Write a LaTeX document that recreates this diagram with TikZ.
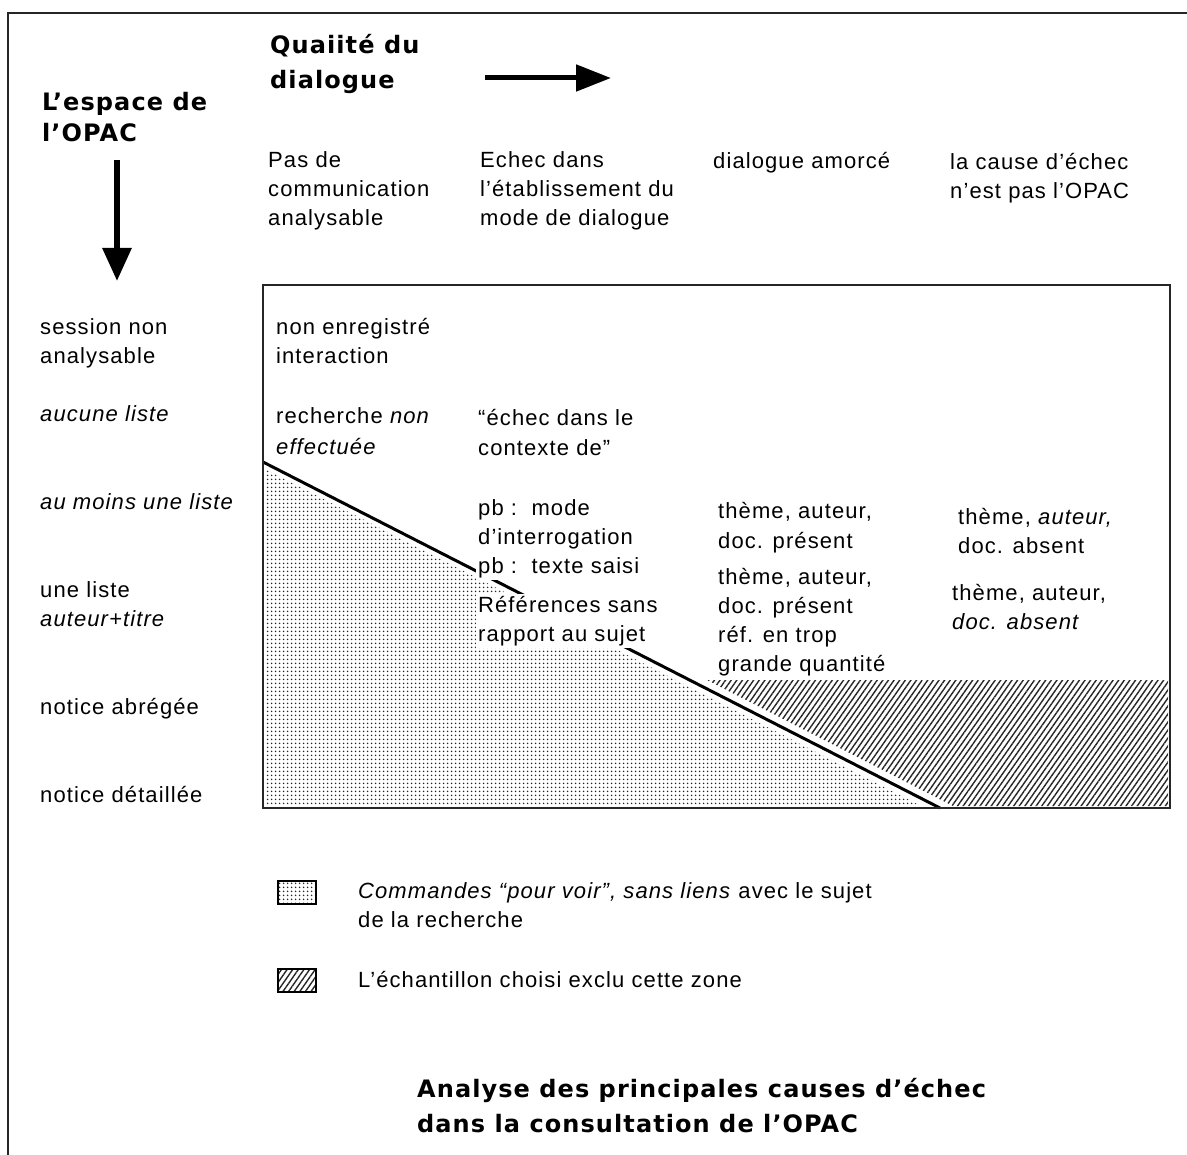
\documentclass[tikz,border=0pt]{standalone}
\usepackage{fontspec}
\setmainfont{Liberation Sans}[LetterSpace=5]
\newfontfamily\titlefont{DejaVu Sans}[LetterSpace=4.5]
\usetikzlibrary{arrows.meta,patterns.meta}
\tikzset{
  lbl/.style={anchor=base west, inner sep=0pt, align=left, font=\fontsize{22}{29}\selectfont},
  wlbl/.style={lbl, fill=white, inner sep=2pt},
  ttl/.style={anchor=base west, inner sep=0pt, align=left, font=\titlefont\bfseries\fontsize{24}{35}\selectfont},
  frame/.style={line width=2pt, black!85},
  dotfill/.style={pattern={Dots[distance=4pt, radius=1pt]}, pattern color=black!85},
  hatchfill/.style={pattern={Lines[angle=55, distance=4.6pt, line width=1.4pt]}, pattern color=black!85},
  bigarrow/.style={line width=5pt, -{Triangle[length=35pt, width=26pt]}},
  diag/.style={line width=3pt, black}
}
\begin{document}
\begin{tikzpicture}[x=1pt, y=-1pt]
\useasboundingbox (0,0) rectangle (1187,1155);
% outer frame
\coordinate (ftr) at (1187,13);
\coordinate (ftl) at (8,13);
\coordinate (fbl) at (8,1155);
\draw[frame] (ftr) -- (ftl) -- (fbl);

% titles (anchored on the baseline of the last line)
\node[ttl, font=\titlefont\bfseries\fontsize{24}{35}\selectfont] (qual) at (270,89) {Quaiité du\\dialogue};
\node[ttl, font=\titlefont\bfseries\fontsize{24}{31}\selectfont] (esp) at (42,142) {L’espace de\\l’OPAC};
\coordinate (ra1) at (485,78);
\coordinate (ra2) at (611,78);
\draw[bigarrow] (ra1) -- (ra2);
\coordinate (da1) at (117,160);
\coordinate (da2) at (117,281);
\draw[bigarrow, line width=6pt, -{Triangle[length=33pt, width=28pt]}] (da1) -- (da2);

% column headers
\node[lbl] (h1) at (268,226) {Pas de\\communication\\analysable};
\node[lbl] (h2) at (480,226) {Echec dans\\l’établissement du\\mode de dialogue};
\node[lbl] (h3) at (713,169) {dialogue amorcé};
\node[lbl] (h4) at (950,199) {la cause d’échec\\n’est pas l’OPAC};

% row labels
\node[lbl] (r1) at (40,364) {session non\\analysable};
\node[lbl] (r2) at (40,422) {\itshape aucune liste};
\node[lbl] (r3) at (40,510) {\itshape au moins une liste};
\node[lbl] (r4) at (40,626) {une liste\\\textit{auteur+titre}};
\node[lbl] (r5) at (40,714) {notice abrégée};
\node[lbl] (r6) at (40,802) {notice détaillée};

% shaded zones
\coordinate (d1) at (265,469);
\coordinate (d2) at (921,806);
\coordinate (d3) at (265,806);
\fill[dotfill] (d1) -- (d2) -- (d3) -- cycle;
\coordinate (k1) at (707,680);
\coordinate (k2) at (1168,680);
\coordinate (k3) at (1168,806);
\coordinate (k4) at (953,806);
\fill[hatchfill] (k1) -- (k2) -- (k3) -- (k4) -- cycle;

% diagonal
\coordinate (g1) at (263,462);
\coordinate (g2) at (940,808);
\draw[diag] (g1) -- (g2);

% inner box
\coordinate (b1) at (263,285);
\coordinate (b2) at (1170,808);
\draw[frame] (b1) rectangle (b2);

% cells
\node[lbl] (c11) at (276,364) {non enregistré\\interaction};
\node[lbl, font=\fontsize{22}{31}\selectfont] (c21) at (276,455) {recherche \textit{non}\\\textit{effectuée}};
\node[lbl, font=\fontsize{22}{30}\selectfont] (c22) at (478,456) {“échec dans le\\contexte de”};
\node[wlbl] (c32) at (476,573) {pb :\ \ mode\\d’interrogation\\pb :\ \ texte saisi};
\node[wlbl] (c42) at (476,641) {Références sans\\rapport au sujet};
\node[lbl] (c33) at (718,548) {thème, auteur,\\doc. présent};
\node[lbl] (c43) at (718,671) {thème, auteur,\\doc. présent\\réf. en trop\\grande quantité};
\node[lbl] (c34) at (958,554) {thème, \textit{auteur,}\\doc. absent};
\node[lbl] (c44) at (952,629) {thème, auteur,\\\textit{doc. absent}};

% legend
\coordinate (l1a) at (278,881);
\coordinate (l1b) at (316,904);
\fill[dotfill] (l1a) rectangle (l1b);
\draw[line width=2pt] (l1a) rectangle (l1b);
\coordinate (l2a) at (278,969);
\coordinate (l2b) at (316,992);
\fill[hatchfill] (l2a) rectangle (l2b);
\draw[line width=2pt] (l2a) rectangle (l2b);
\node[lbl] (t1) at (358,927) {\textit{Commandes “pour voir”, sans liens} avec le sujet\\de la recherche};
\node[lbl] (t2) at (358,987) {L’échantillon choisi exclu cette zone};

% bottom title
\node[ttl] (bt) at (417,1132) {Analyse des principales causes d’échec\\dans la consultation de l’OPAC};
\end{tikzpicture}
\end{document}
